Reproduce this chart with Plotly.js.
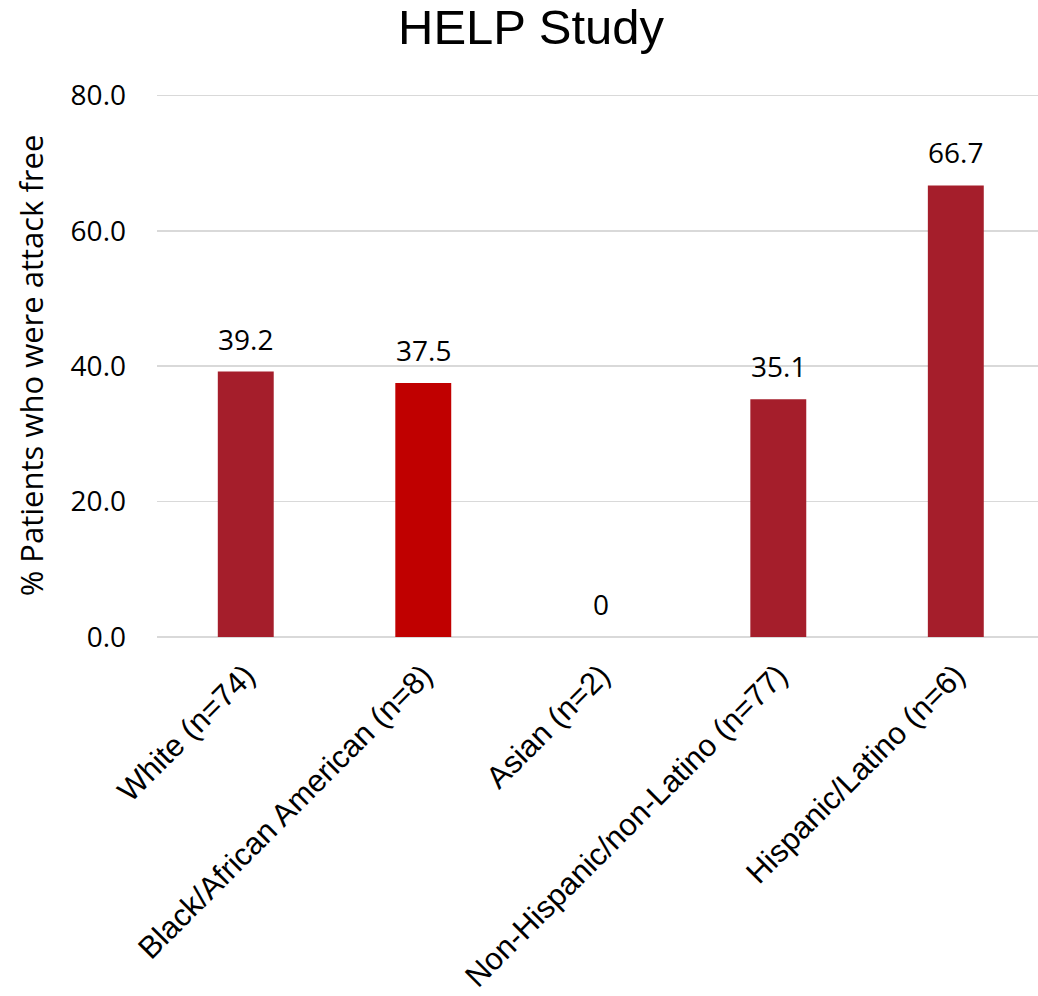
<!DOCTYPE html>
<html>
<head>
<meta charset="utf-8">
<script src="https://cdn.plot.ly/plotly-3.0.1.min.js"></script>
<style>
  html, body { margin: 0; padding: 0; background: #ffffff; }
  #chart { width: 1038px; height: 996px; }
</style>
</head>
<body>
<div id="chart"></div>
<script>
// Attack-free rate by race / ethnicity group
const categories = [
  "White (n=74)",
  "Black/African American (n=8)",
  "Asian (n=2)",
  "Non-Hispanic/non-Latino (n=77)",
  "Hispanic/Latino (n=6)"
];
const attackFreePct = [39.2, 37.5, 0, 35.1, 66.7];
const barColors = ["#A51E2B", "#C00000", "#A51E2B", "#A51E2B", "#A51E2B"];
const yTicks = [0, 20, 40, 60, 80];

const idx = categories.map((_, i) => i);

const numberFont = { family: "Open Sans, Noto Sans, sans-serif", size: 28, color: "#000000" };

const trace = {
  type: "bar",
  x: idx,
  y: attackFreePct,
  width: 0.315,
  marker: { color: barColors, line: { width: 0 } },
  hoverinfo: "x+y"
};

// value labels above each bar
const annotations = attackFreePct.map((v, i) => ({
  x: i,
  y: v,
  xref: "x",
  yref: "y",
  text: v === 0 ? "0" : v.toFixed(1),
  showarrow: false,
  yanchor: "bottom",
  yshift: 12,
  font: numberFont
}));

const layout = {
  width: 1038,
  height: 996,
  margin: { l: 157, r: 0, t: 94, b: 359, pad: 0 },
  paper_bgcolor: "#ffffff",
  plot_bgcolor: "#ffffff",
  showlegend: false,
  title: {
    text: "HELP Study",
    font: { family: "Liberation Sans, Arial, sans-serif", size: 49, color: "#000000" },
    x: 0.5116,
    xanchor: "center",
    xref: "container",
    y: 0.99,
    yanchor: "top",
    yref: "container"
  },
  xaxis: {
    range: [-0.5, 4.463],
    tickvals: idx,
    ticktext: categories,
    tickangle: -45,
    tickfont: { family: "Liberation Sans, Arial, sans-serif", size: 31, color: "#000000" },
    ticklabelstandoff: 13,
    showgrid: false,
    zeroline: false,
    showline: false,
    ticks: "",
    fixedrange: true
  },
  yaxis: {
    range: [0, 80.2],
    tickvals: yTicks,
    tickformat: ".1f",
    tickfont: numberFont,
    gridcolor: "#d9d9d9",
    gridwidth: 1.5,
    zeroline: true,
    zerolinecolor: "#d9d9d9",
    zerolinewidth: 1.5,
    showline: false,
    ticks: "",
    ticklabelstandoff: 30,
    title: {
      text: "% Patients who were attack free",
      font: { family: "Open Sans, Noto Sans, sans-serif", size: 31, color: "#000000" },
      standoff: 17
    },
    fixedrange: true
  },
  annotations: annotations
};

Plotly.newPlot("chart", [trace], layout, { displayModeBar: false, staticPlot: true });
</script>
</body>
</html>
